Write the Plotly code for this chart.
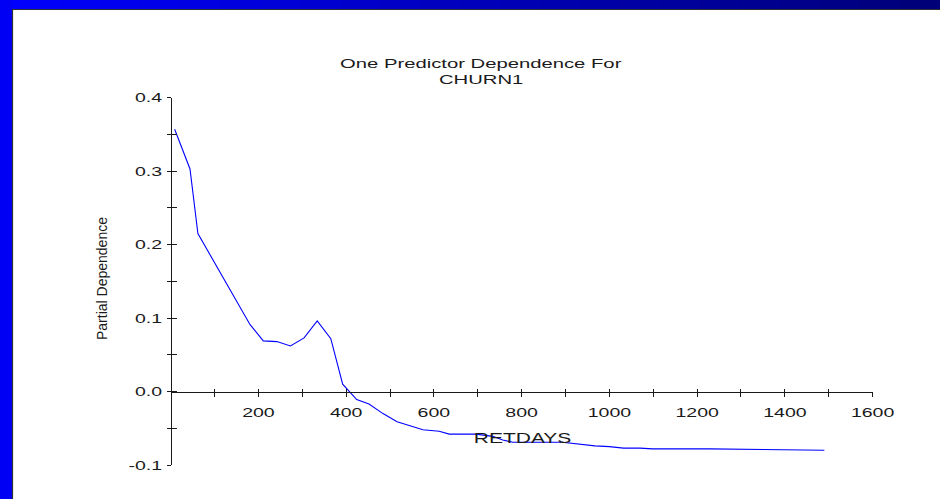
import plotly.graph_objects as go

# Partial dependence of CHURN1 on RETDAYS
retdays = [9, 44, 62, 181, 211, 242, 273, 304, 334, 365, 392, 424, 452, 484, 516,
           575, 612, 635, 696, 734, 757, 780, 893, 967, 1000, 1032, 1070, 1098, 1228, 1490]
partial_dep = [0.357, 0.303, 0.215, 0.091, 0.069, 0.068, 0.062, 0.073, 0.096, 0.072,
               0.010, -0.011, -0.017, -0.030, -0.041, -0.052, -0.054, -0.058, -0.058,
               -0.061, -0.066, -0.069, -0.069, -0.074, -0.075, -0.077, -0.077, -0.078,
               -0.078, -0.080]

x_ticks = list(range(100, 1700, 100))
x_labels = [str(v) if v % 200 == 0 else "" for v in x_ticks]
y_ticks = [-0.1, -0.05, 0.0, 0.05, 0.1, 0.15, 0.2, 0.25, 0.3, 0.35, 0.4]
y_labels = ["-0.1", "", "0.0", "", "0.1", "", "0.2", "", "0.3", "", "0.4"]

W, H = 940, 499
FONT = "Liberation Sans, Arial, sans-serif"
INK = "#1a1a1a"
TEXT_STRETCH = 1.5


def px(x):
    return x / W


def py(y):
    return 1 - y / H


x_dom = [px(170.7), px(872.6)]
y_dom = [py(465.0), py(97.7)]
x_axis_pos = py(391.7)
y_axis_pos = px(170.7)

fig = go.Figure()
fig.add_trace(go.Scatter(x=retdays, y=partial_dep, mode="lines",
                         line=dict(color="#0000ff", width=1.1),
                         hoverinfo="skip", showlegend=False))
# carrier trace for the inner half of the crossing tick marks
fig.add_trace(go.Scatter(x=retdays, y=partial_dep, mode="lines", xaxis="x2", yaxis="y2",
                         line=dict(color="rgba(0,0,0,0)", width=0),
                         hoverinfo="skip", showlegend=False))

axis_common = dict(showgrid=False, zeroline=False, showline=True, linecolor=INK,
                   linewidth=1, tickcolor=INK, tickwidth=1, automargin=False,
                   tickfont=dict(family=FONT, size=13, color=INK))
inner_common = dict(showticklabels=False, showline=False, showgrid=False,
                    zeroline=False, automargin=False, tickcolor=INK, tickwidth=1)

fig.update_layout(
    width=W, height=H, autosize=False,
    margin=dict(l=0, r=0, t=0, b=0, pad=0, autoexpand=False),
    paper_bgcolor="white", plot_bgcolor="rgba(0,0,0,0)",
    xaxis=dict(domain=x_dom, range=[0, 1600], anchor="free", position=x_axis_pos,
               tickmode="array", tickvals=x_ticks, ticktext=x_labels,
               ticks="outside", ticklen=4, ticklabelstandoff=5, **axis_common),
    yaxis=dict(domain=y_dom, range=[-0.1, 0.4], anchor="free", position=y_axis_pos,
               tickmode="array", tickvals=y_ticks, ticktext=y_labels,
               ticks="outside", ticklen=4, ticklabelstandoff=2, **axis_common),
    xaxis2=dict(domain=x_dom, range=[0, 1600], anchor="free", position=x_axis_pos,
                overlaying="x", tickmode="array", tickvals=x_ticks,
                ticks="inside", ticklen=3, **inner_common),
    yaxis2=dict(domain=y_dom, range=[-0.1, 0.4], anchor="free", position=y_axis_pos,
                overlaying="y", side="left", tickmode="array", tickvals=y_ticks,
                ticks="inside", ticklen=5, **inner_common),
)

# slide frame: gradient band across the top, solid strip on the left
shapes = []
steps = 47
for i in range(steps):
    t = i / (steps - 1)
    b = int(round(255 - t * (255 - 120)))
    shapes.append(dict(type="rect", xref="paper", yref="paper",
                       x0=px(i * W / steps), x1=px((i + 1) * W / steps + 0.5),
                       y0=py(9), y1=py(0), line=dict(width=0),
                       fillcolor=f"rgb(0,0,{b})"))
shapes.append(dict(type="rect", xref="paper", yref="paper", x0=px(0), x1=px(12),
                   y0=py(H), y1=py(0), line=dict(width=0), fillcolor="rgb(0,0,245)"))
shapes.append(dict(type="line", xref="paper", yref="paper", x0=px(12), x1=px(W),
                   y0=py(9.5), y1=py(9.5), line=dict(color="#303030", width=1.2)))
shapes.append(dict(type="line", xref="paper", yref="paper", x0=px(12.5), x1=px(12.5),
                   y0=py(9), y1=py(H), line=dict(color="#303030", width=1.2)))
fig.update_layout(shapes=shapes)


def label(text, x, y, size, angle=0):
    fig.add_annotation(text=text, xref="paper", yref="paper", x=px(x), y=py(y),
                       xanchor="center", yanchor="middle", showarrow=False,
                       textangle=angle, font=dict(family=FONT, size=size, color=INK))


label("One Predictor Dependence For", 481, 63, 13.5)
label("CHURN1", 481, 80, 13.5)
label("RETDAYS", 522, 437.5, 14)
label("Partial Dependence", 102, 279, 14, angle=-90)

# horizontal labels drawn with widened glyphs, keeping each label's anchor
post = """
var gd = document.getElementById('{plot_id}');
gd.querySelectorAll('.xtick text, .ytick text, .annotation-text').forEach(function(t){
  if (t.getAttribute('data-unformatted') === 'Partial Dependence') return;
  var w = t.getComputedTextLength();
  if (!(w > 0)) return;
  var b0 = t.getBBox();
  t.setAttribute('textLength', (w * %s).toFixed(1));
  t.setAttribute('lengthAdjust', 'spacingAndGlyphs');
  var b1 = t.getBBox();
  var anchor = t.getAttribute('text-anchor') || window.getComputedStyle(t).textAnchor;
  var d;
  if (anchor === 'end') d = (b0.x + b0.width) - (b1.x + b1.width);
  else if (anchor === 'start') d = b0.x - b1.x;
  else d = (b0.x + b0.width / 2) - (b1.x + b1.width / 2);
  var x = parseFloat(t.getAttribute('x') || '0');
  t.setAttribute('x', (x + d).toFixed(2));
});
""" % TEXT_STRETCH

fig.write_html("out.html", post_script=post, config={"displayModeBar": False})
